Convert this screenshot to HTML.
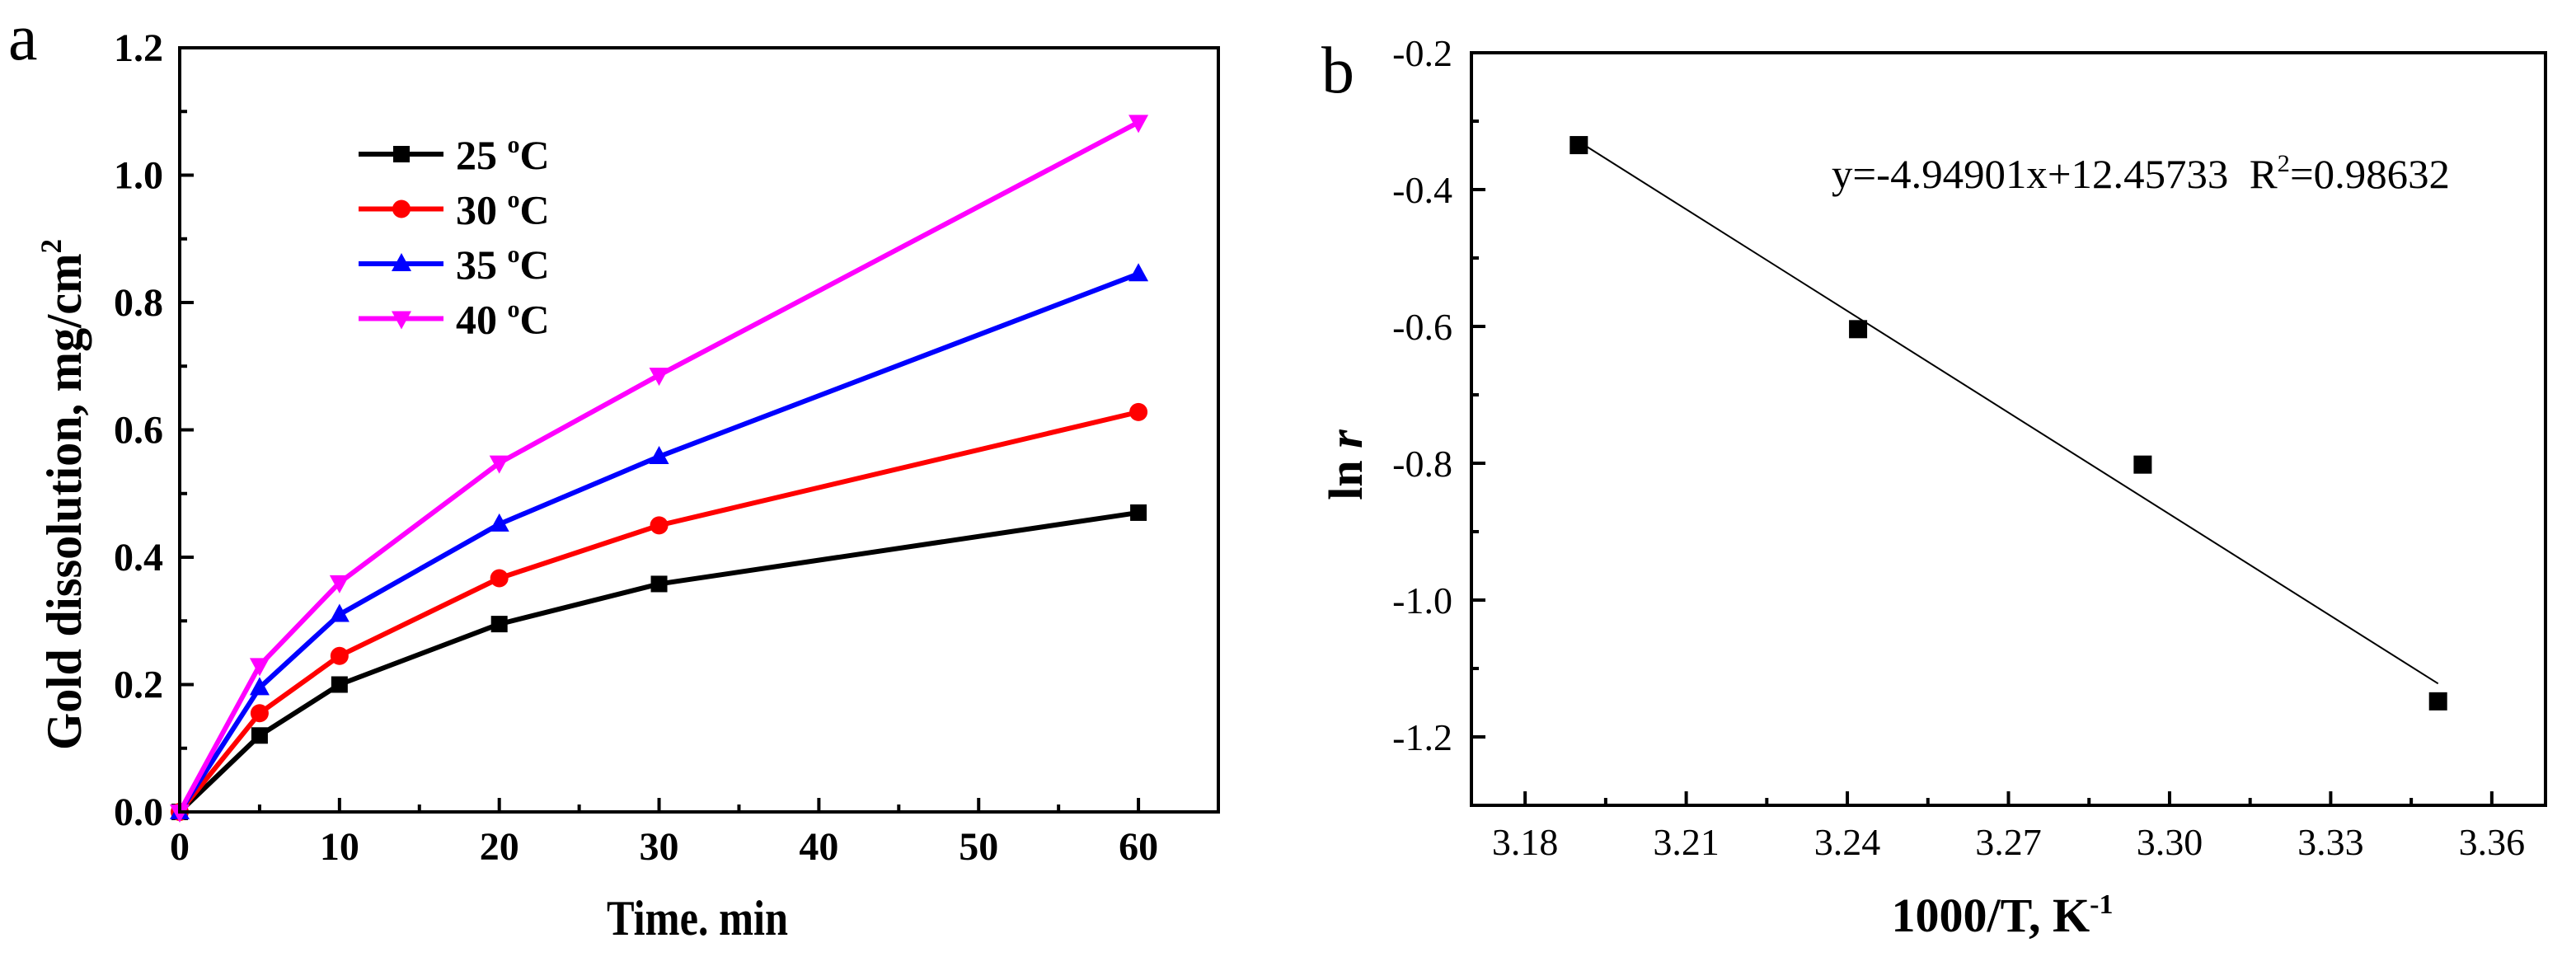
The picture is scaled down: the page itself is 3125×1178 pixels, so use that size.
<!DOCTYPE html>
<html><head><meta charset="utf-8"><style>
html,body{margin:0;padding:0;background:#fff;}
svg{display:block;font-family:"Liberation Serif",serif;}
svg text{font-family:"Liberation Serif","Times New Roman",serif;}
</style></head><body>
<svg id="fig" width="3125" height="1178" viewBox="0 0 3125 1178" xmlns="http://www.w3.org/2000/svg">
<g id="pa"></g>
<g id="pb"></g>
</svg>
<script>
// Panel a data
const timeMin = [0, 5, 10, 20, 30, 60];
const seriesNames = ["25", "30", "35", "40"];
const s25 = [0, 0.12, 0.2, 0.295, 0.358, 0.47];
const s30 = [0, 0.155, 0.245, 0.367, 0.45, 0.628];
const s35 = [0, 0.195, 0.31, 0.452, 0.558, 0.845];
const s40 = [0, 0.23, 0.36, 0.548, 0.686, 1.083];
const xTicksA = [0, 10, 20, 30, 40, 50, 60];
const yTicksA = ["0.0", "0.2", "0.4", "0.6", "0.8", "1.0", "1.2"];
// Panel b data
const invT = [3.19, 3.242, 3.295, 3.35];
const lnR = [-0.335, -0.604, -0.802, -1.148];
const xTicksB = ["3.18", "3.21", "3.24", "3.27", "3.30", "3.33", "3.36"];
const yTicksB = ["-0.2", "-0.4", "-0.6", "-0.8", "-1.0", "-1.2"];

const NS = "http://www.w3.org/2000/svg";
function mk(parent, tag, attrs, text) {
  const e = document.createElementNS(NS, tag);
  if (tag === 'text') e.setAttribute('font-family', 'Liberation Serif, serif');
  for (const k in attrs) e.setAttribute(k, attrs[k]);
  if (text !== undefined) e.textContent = text;
  parent.appendChild(e);
  return e;
}

// ---------- Panel A ----------
const A = document.getElementById('pa');
const aL = 218, aR = 1478, aT = 58, aB = 985;
const axA = v => aL + (v - 0) / 65 * (aR - aL);
const ayA = v => aB - v / 1.2 * (aB - aT);

for (let v = 0; v <= 65; v += 5) {
  const major = v % 10 === 0;
  const t = mk(A, 'line', {x1: axA(v), x2: axA(v), y1: aB, y2: aB - (major ? 17 : 9), stroke: '#000', 'stroke-width': 4});
  
  
}
for (let i = 0; i <= 12; i++) {
  const v = i / 10;
  const major = i % 2 === 0;
  const t = mk(A, 'line', {x1: aL, x2: aL + (major ? 17 : 9), y1: ayA(v), y2: ayA(v), stroke: '#000', 'stroke-width': 4});
  
  
}
xTicksA.forEach(v => {
  const t = mk(A, 'text', {x: axA(v), y: 1043, 'text-anchor': 'middle', 'font-size': 48, 'font-weight': 'bold'}, String(v));
  
  
});
yTicksA.forEach(s => {
  const t = mk(A, 'text', {x: 198, y: ayA(parseFloat(s)) + 16, 'text-anchor': 'end', 'font-size': 48, 'font-weight': 'bold'}, s);
  
  
});

const colors = ['#000000', '#ff0000', '#0000ff', '#ff00ff'];
const shapes = ['square', 'circle', 'tri-up', 'tri-down'];
const allS = [s25, s30, s35, s40];
function marker(g, shape, x, y, c) {
  let m;
  if (shape === 'square') m = mk(g, 'rect', {x: x - 10, y: y - 10, width: 20, height: 20, fill: c});
  else if (shape === 'circle') m = mk(g, 'circle', {cx: x, cy: y, r: 11, fill: c});
  else if (shape === 'tri-up') m = mk(g, 'polygon', {points: `${x},${y - 13} ${x - 12},${y + 9} ${x + 12},${y + 9}`, fill: c});
  else m = mk(g, 'polygon', {points: `${x},${y + 13} ${x - 12},${y - 9} ${x + 12},${y - 9}`, fill: c});
  
  
}
allS.forEach((arr, si) => {
  const g = mk(A, 'g', {});
  
  
  const pts = arr.map((v, i) => axA(timeMin[i]) + ',' + ayA(v)).join(' ');
  const pl = mk(g, 'polyline', {points: pts, fill: 'none', stroke: colors[si], 'stroke-width': 6, 'stroke-linejoin': 'round'});
  
  
  arr.forEach((v, i) => marker(g, shapes[si], axA(timeMin[i]), ayA(v), colors[si]));
  const ly = 187 + si * 66.5;
  const lg = mk(A, 'g', {});
  
  
  mk(lg, 'line', {x1: 435, x2: 538, y1: ly, y2: ly, stroke: colors[si], 'stroke-width': 6});
  marker(lg, shapes[si], 487, ly, colors[si]);
  const tx = mk(lg, 'text', {x: 553, y: ly + 18, 'font-size': 50, 'font-weight': 'bold'});
  tx.innerHTML = seriesNames[si] + ' <tspan dy="-20" font-size="30">o</tspan><tspan dy="20">C</tspan>';
});

const axisA = mk(A, 'rect', {x: aL, y: aT, width: aR - aL, height: aB - aT, fill: 'none', stroke: '#000', 'stroke-width': 4});



const xtA = mk(A, 'text', {x: 846, y: 1134, 'text-anchor': 'middle', 'font-size': 60, 'font-weight': 'bold', textLength: 220, lengthAdjust: 'spacingAndGlyphs'}, 'Time. min');


const ytA = mk(A, 'text', {x: 0, y: 0, 'text-anchor': 'middle', 'font-size': 60, 'font-weight': 'bold', transform: 'translate(98,600) rotate(-90)', textLength: 620, lengthAdjust: 'spacingAndGlyphs'});
ytA.innerHTML = 'Gold dissolution, mg/cm<tspan dy="-24" font-size="36">2</tspan>';


const la = mk(A, 'text', {x: 10, y: 72, 'font-size': 80}, 'a');



// ---------- Panel B ----------
const B = document.getElementById('pb');
const bL = 1785, bR = 3088, bT = 64, bB = 977;
const bx0 = 3.17, bx1 = 3.37, by0 = -1.3, by1 = -0.2;
const axB = v => bL + (v - bx0) / (bx1 - bx0) * (bR - bL);
const ayB = v => bB - (v - by0) / (by1 - by0) * (bB - bT);

for (let i = 0; i <= 13; i++) {
  const v = 3.18 + i * 0.015;
  if (v > bx1) break;
  const major = i % 2 === 0;
  const t = mk(B, 'line', {x1: axB(v), x2: axB(v), y1: bB, y2: bB - (major ? 17 : 9), stroke: '#000', 'stroke-width': 4});
  
  
}
for (let i = 0; i <= 11; i++) {
  const v = -0.2 - i * 0.1;
  const major = i % 2 === 0;
  const t = mk(B, 'line', {x1: bL, x2: bL + (major ? 17 : 9), y1: ayB(v), y2: ayB(v), stroke: '#000', 'stroke-width': 4});
  
  
}
xTicksB.forEach(s => {
  const t = mk(B, 'text', {x: axB(parseFloat(s)), y: 1037, 'text-anchor': 'middle', 'font-size': 46}, s);
  
  
});
yTicksB.forEach(s => {
  const t = mk(B, 'text', {x: 1762, y: ayB(parseFloat(s)) + 16, 'text-anchor': 'end', 'font-size': 46}, s);
  
  
});

const n = invT.length;
const mx = invT.reduce((a, b) => a + b, 0) / n, my = lnR.reduce((a, b) => a + b, 0) / n;
let sxy = 0, sxx = 0;
for (let i = 0; i < n; i++) { sxy += (invT[i] - mx) * (lnR[i] - my); sxx += (invT[i] - mx) ** 2; }
const slope = sxy / sxx, icpt = my - slope * mx;
const xa = invT[0], xb = invT[n - 1];
const fit = mk(B, 'line', {x1: axB(xa), y1: ayB(slope * xa + icpt), x2: axB(xb), y2: ayB(slope * xb + icpt), stroke: '#000', 'stroke-width': 2});


invT.forEach((v, i) => {
  const r = mk(B, 'rect', {x: axB(v) - 11, y: ayB(lnR[i]) - 11, width: 22, height: 22, fill: '#000'});
  
  
});

const axisB = mk(B, 'rect', {x: bL, y: bT, width: bR - bL, height: bB - bT, fill: 'none', stroke: '#000', 'stroke-width': 4});



const eq = mk(B, 'text', {x: 2222, y: 228, 'font-size': 50, textLength: 750, lengthAdjust: 'spacingAndGlyphs'});
eq.innerHTML = 'y=-4.94901x+12.45733\u00a0\u00a0R<tspan dy="-20" font-size="30">2</tspan><tspan dy="20">=0.98632</tspan>';



const xtB = mk(B, 'text', {x: 2429, y: 1130, 'text-anchor': 'middle', 'font-size': 58, 'font-weight': 'bold'});
xtB.innerHTML = '1000/T, K<tspan dy="-22" font-size="34">-1</tspan>';


const ytB = mk(B, 'text', {x: 0, y: 0, 'text-anchor': 'middle', 'font-size': 58, 'font-weight': 'bold', transform: 'translate(1652,564) rotate(-90)'});
ytB.innerHTML = 'ln <tspan font-style="italic">r</tspan>';


const lb = mk(B, 'text', {x: 1603, y: 112, 'font-size': 80}, 'b');


</script>
</body></html>
